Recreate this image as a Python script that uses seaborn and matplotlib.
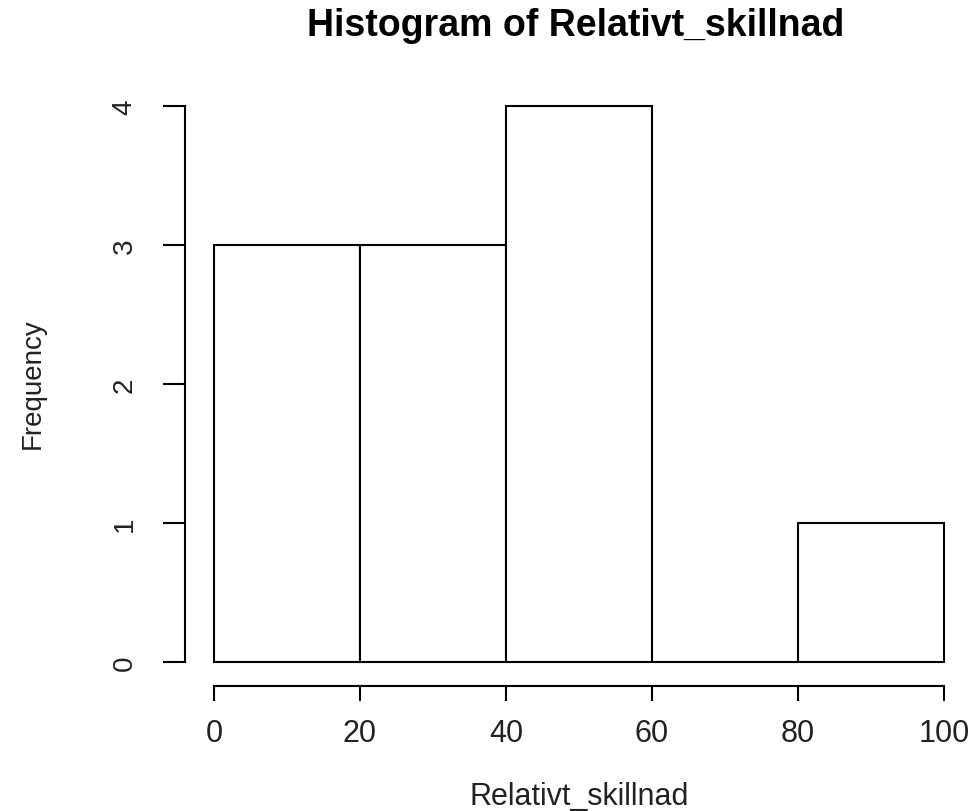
import matplotlib
matplotlib.use("Agg")
import matplotlib.pyplot as plt
import seaborn as sns
import numpy as np

# Data
bin_edges = [0, 20, 40, 60, 80, 100]
bin_counts = [3, 3, 4, 0, 1]
x_ticks = [0, 20, 40, 60, 80, 100]
y_ticks = [0, 1, 2, 3, 4]

bin_mids = [(a + b) / 2 for a, b in zip(bin_edges[:-1], bin_edges[1:])]

sns.set_style("white")
plt.rcParams['font.family'] = ['Liberation Sans', 'DejaVu Sans']

W, H = 976, 812
fig = plt.figure(figsize=(W / 100, H / 100), dpi=100)
ax = fig.add_axes([184.8 / W, 1 - 685.2 / H, 788.4 / W, 600.5 / H])

sns.histplot(x=bin_mids, weights=bin_counts, bins=bin_edges, ax=ax,
             color="white", edgecolor="black", linewidth=1.5, alpha=1)

ax.set_xlim(-4, 104)
ax.set_ylim(-0.16, 4.16)

for s in ["top", "right"]:
    ax.spines[s].set_visible(False)
ax.spines["left"].set_bounds(0, 4)
ax.spines["bottom"].set_bounds(0, 100)
ax.spines["bottom"].set_position(("outward", 1.5))
for s in ["left", "bottom"]:
    ax.spines[s].set_linewidth(1.5)
    ax.spines[s].set_color("black")

ax.set_xticks(x_ticks)
ax.set_yticks(y_ticks)
ax.set_xticklabels([str(v) for v in x_ticks], fontsize=22, color="#222222")
ax.set_yticklabels([str(v) for v in y_ticks], fontsize=20, rotation=90,
                   va="center", color="#222222")
ax.tick_params(axis="x", direction="out", length=10.5, width=1.5, pad=12, color="black")
ax.tick_params(axis="y", direction="out", length=16, width=1.5, pad=18, color="black")
ax.tick_params(left=True, bottom=True)

ax.set_xlabel("")
ax.set_ylabel("")
fig.text(579 / W, 1 - 805 / H, "Relativt_skillnad", fontsize=22,
         ha="center", va="baseline", color="#222222")
fig.text(33 / W, 1 - 384 / H, "Frequency", fontsize=20, rotation=90,
         ha="center", va="center", color="#222222")
fig.text(576 / W, 1 - 36 / H, "Histogram of Relativt_skillnad", fontsize=27,
         fontweight="bold", ha="center", va="baseline", color="black")

fig.savefig("out.png", dpi=100, facecolor="white")
